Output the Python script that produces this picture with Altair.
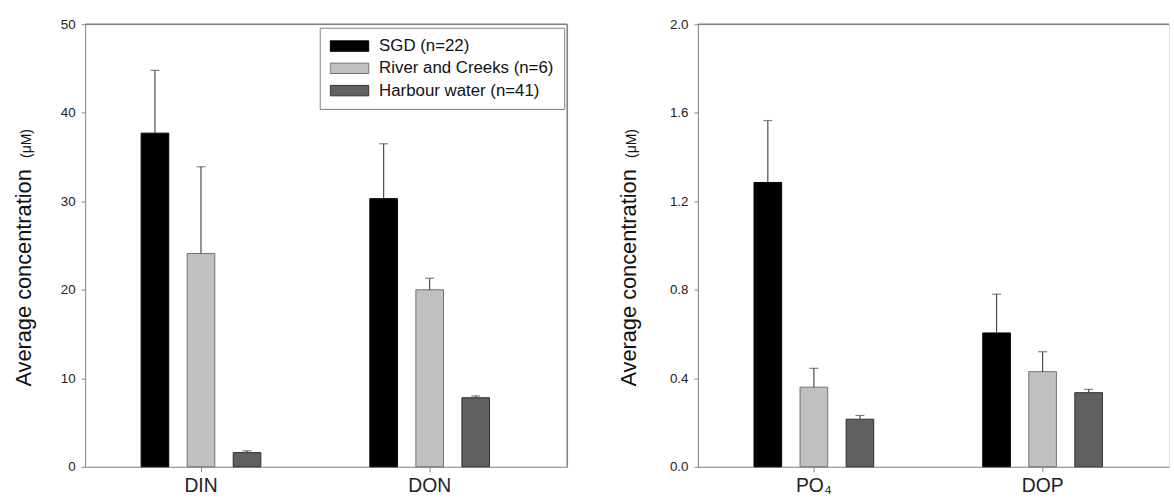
import altair as alt
import pandas as pd

sources = ["SGD (n=22)", "River and Creeks (n=6)", "Harbour water (n=41)"]
fills = ["#000000", "#c0c0c0", "#606060"]
strokes = ["#000000", "#707070", "#303030"]

n_cats = ["DIN", "DON"]
n_mean = {"DIN": [37.7, 24.1, 1.6], "DON": [30.3, 20.0, 7.8]}
n_upper = {"DIN": [44.8, 33.9, 1.8], "DON": [36.5, 21.3, 8.0]}

p_cats = ["PO\u2084", "DOP"]
p_mean = {"PO\u2084": [1.285, 0.36, 0.215], "DOP": [0.605, 0.43, 0.335]}
p_upper = {"PO\u2084": [1.565, 0.445, 0.232], "DOP": [0.78, 0.52, 0.35]}

y_title = "Average concentration"
y_unit = "(\u03bcM)"

FONT = "Liberation Sans"
H = 447
FRAME = "#808080"


def make_df(cats, mean, upper):
    rows = []
    for c in cats:
        for i, s in enumerate(sources):
            rows.append({"cat": c, "source": s, "value": mean[c][i], "upper": upper[c][i]})
    return pd.DataFrame(rows)


def panel(cats, mean, upper, ymax, ystep, fmt, width, po, align, legend, title_x):
    df = make_df(cats, mean, upper)
    base = alt.Chart(df)
    xenc = alt.X("cat:N", sort=cats, title=None,
                 scale=alt.Scale(paddingInner=0.396, paddingOuter=po, align=align),
                 axis=alt.Axis(labelAngle=0, labelFontSize=19.5, labelPadding=5, tickSize=5,
                               labelColor="#222222"))
    xoff = alt.XOffset("source:N", sort=sources,
                       scale=alt.Scale(paddingInner=0.4, paddingOuter=0.2))
    yenc = alt.Y("value:Q", title=None,
                 scale=alt.Scale(domain=[0, ymax], nice=False),
                 axis=alt.Axis(values=[round(ystep * k, 4) for k in range(int(round(ymax / ystep)) + 1)],
                               format=fmt, tickSize=4, labelFontSize=13.5, labelPadding=6,
                               labelColor="#222222", grid=False))
    if legend:
        leg = alt.Legend(title=None, orient="none", legendX=237, legendY=3.5,
                         strokeColor=FRAME, fillColor="white", padding=10,
                         labelFontSize=17, labelFont=FONT, labelColor="#111111", labelLimit=400,
                         symbolType="M-1,-0.27H1V0.27H-1Z", symbolSize=1521,
                         symbolStrokeColor="#333333", symbolStrokeWidth=1,
                         symbolOpacity=1, clipHeight=17, rowPadding=4.5, labelOffset=10)
    else:
        leg = None
    bars = base.mark_bar(strokeWidth=1).encode(
        x=xenc, xOffset=xoff, y=yenc,
        color=alt.Color("source:N", sort=sources,
                        scale=alt.Scale(domain=sources, range=fills), legend=leg),
        stroke=alt.Stroke("source:N", sort=sources,
                          scale=alt.Scale(domain=sources, range=strokes), legend=None),
    )
    err = base.mark_rule(color="#4a4a4a", strokeWidth=1.2).encode(
        x=xenc, xOffset=xoff, y="value:Q", y2="upper:Q")
    cap = base.mark_tick(color="#4a4a4a", size=9, thickness=1.2, orient="horizontal").encode(
        x=xenc, xOffset=xoff, y="upper:Q")
    one = alt.Chart(pd.DataFrame({"a": [0]}))
    t1 = one.mark_text(text=y_title, angle=270, align="left", baseline="alphabetic",
                       fontSize=22, font=FONT, color="#111111").encode(
        x=alt.value(title_x), y=alt.value(366))
    t2 = one.mark_text(text=y_unit, angle=270, align="left", baseline="alphabetic",
                       fontSize=14, font=FONT, color="#111111").encode(
        x=alt.value(title_x), y=alt.value(135))
    top = one.mark_rule(color=FRAME, strokeWidth=1.5).encode(
        x=alt.value(0), x2=alt.value(width), y=alt.value(0))
    layers = [top, bars, err, cap, t1, t2]
    if legend:
        side = one.mark_rule(color=FRAME, strokeWidth=1.5).encode(
            x=alt.value(width), y=alt.value(0), y2=alt.value(H))
        layers.insert(0, side)
    return alt.layer(*layers).properties(width=width, height=H)


left = panel(n_cats, n_mean, n_upper, 50, 10, "d", 487, 0.252, 0.406, True, -55)
right = panel(p_cats, p_mean, p_upper, 2.0, 0.4, ".1f", 476, 0.228, 0.45, False, -62)

chart = alt.hconcat(left, right, spacing=49).resolve_scale(
    color="independent", stroke="independent"
).resolve_legend(color="independent").properties(
    padding={"left": 12, "top": 14, "right": 3, "bottom": 0}
).configure_view(stroke="transparent", strokeWidth=0).configure_axis(
    domainColor=FRAME, domainWidth=1.5, tickColor=FRAME, tickWidth=1.5,
    labelFont=FONT, titleFont=FONT
).configure(background="white")

chart.save("out.html", embed_options={"renderer": "svg", "actions": False})
